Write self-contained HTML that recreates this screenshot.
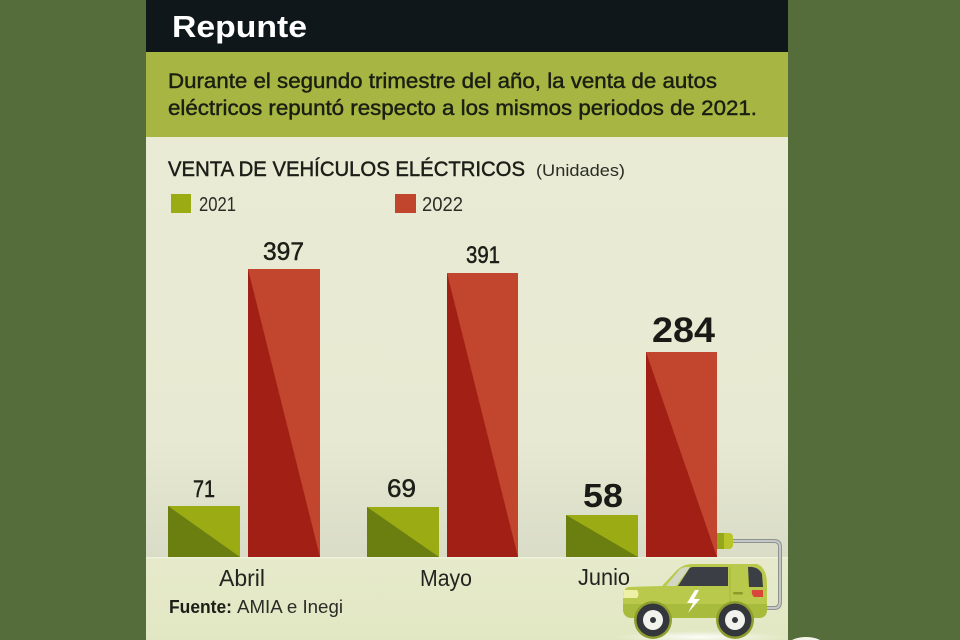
<!DOCTYPE html>
<html>
<head>
<meta charset="utf-8">
<style>
html,body{margin:0;padding:0;background:#556d3a;}
svg{display:block;}
text{font-family:"Liberation Sans",sans-serif;}
</style>
</head>
<body>
<svg width="960" height="640" viewBox="0 0 960 640" xmlns="http://www.w3.org/2000/svg">
  <defs>
    <linearGradient id="bg" x1="0" y1="0" x2="0" y2="1">
      <stop offset="0" stop-color="#e9ebd4"/>
      <stop offset="0.72" stop-color="#e7e9d2"/>
      <stop offset="1" stop-color="#d9dcc6"/>
    </linearGradient>
    <linearGradient id="gnd" x1="0" y1="0" x2="0" y2="1">
      <stop offset="0" stop-color="#e6eacb"/>
      <stop offset="1" stop-color="#e2e7c3"/>
    </linearGradient>
    <radialGradient id="shadow" cx="0.5" cy="0.5" r="0.5">
      <stop offset="0" stop-color="#ffffff" stop-opacity="0.9"/>
      <stop offset="1" stop-color="#ffffff" stop-opacity="0"/>
    </radialGradient>
  </defs>

  <rect x="0" y="0" width="960" height="640" fill="#556d3a"/>

  <rect x="146" y="0" width="642" height="52" fill="#0f171b"/>
  <rect x="146" y="52" width="642" height="85" fill="#a7b643"/>
  <rect x="146" y="137" width="642" height="420" fill="url(#bg)"/>
  <rect x="146" y="557" width="642" height="83" fill="url(#gnd)"/>
  <rect x="146" y="557" width="642" height="1.5" fill="#eef1d8"/>

  <text x="172" y="37" font-size="31" font-weight="bold" fill="#ffffff" textLength="135" lengthAdjust="spacingAndGlyphs">Repunte</text>

  <text x="168" y="88" font-size="21" fill="#1b1f12" stroke="#1b1f12" stroke-width="0.45" textLength="549" lengthAdjust="spacingAndGlyphs">Durante el segundo trimestre del año, la venta de autos</text>
  <text x="168" y="115" font-size="21" fill="#1b1f12" stroke="#1b1f12" stroke-width="0.45" textLength="589" lengthAdjust="spacingAndGlyphs">eléctricos repuntó respecto a los mismos periodos de 2021.</text>

  <text x="168" y="176" font-size="21" fill="#1c1e18" stroke="#1c1e18" stroke-width="0.45" textLength="357" lengthAdjust="spacingAndGlyphs">VENTA DE VEHÍCULOS ELÉCTRICOS</text>
  <text x="536" y="176" font-size="17" fill="#2a2c26" textLength="89" lengthAdjust="spacingAndGlyphs">(Unidades)</text>

  <rect x="171" y="194" width="20" height="19" fill="#9bab13"/>
  <text x="199" y="211" font-size="20" fill="#2a2c26" textLength="37" lengthAdjust="spacingAndGlyphs">2021</text>
  <rect x="395" y="194" width="21" height="19" fill="#c1452c"/>
  <text x="422" y="211" font-size="20" fill="#2a2c26" textLength="41" lengthAdjust="spacingAndGlyphs">2022</text>

  <rect x="168" y="506" width="72" height="51" fill="#9bab13"/>
  <polygon points="168,506 168,557 240,557" fill="#6b7e10"/>
  <rect x="248" y="269" width="72" height="288" fill="#c1462d"/>
  <polygon points="248,269 248,557 320,557" fill="#a11f14"/>

  <rect x="367" y="507" width="72" height="50" fill="#9bab13"/>
  <polygon points="367,507 367,557 439,557" fill="#6b7e10"/>
  <rect x="447" y="273" width="71" height="284" fill="#c1462d"/>
  <polygon points="447,273 447,557 518,557" fill="#a11f14"/>

  <rect x="566" y="515" width="72" height="42" fill="#9bab13"/>
  <polygon points="566,515 566,557 638,557" fill="#6b7e10"/>
  <rect x="646" y="352" width="71" height="205" fill="#c1462d"/>
  <polygon points="646,352 646,557 717,557" fill="#a11f14"/>

  <text x="193" y="497" font-size="24" fill="#1c1e18" stroke="#1c1e18" stroke-width="0.5" textLength="22" lengthAdjust="spacingAndGlyphs">71</text>
  <text x="263" y="260" font-size="25" fill="#1c1e18" stroke="#1c1e18" stroke-width="0.5" textLength="41" lengthAdjust="spacingAndGlyphs">397</text>
  <text x="387" y="497" font-size="25" fill="#1c1e18" stroke="#1c1e18" stroke-width="0.5" textLength="29" lengthAdjust="spacingAndGlyphs">69</text>
  <text x="466" y="263" font-size="24" fill="#1c1e18" stroke="#1c1e18" stroke-width="0.5" textLength="34" lengthAdjust="spacingAndGlyphs">391</text>
  <text x="583" y="507" font-size="33" font-weight="bold" fill="#1a1b17" textLength="40" lengthAdjust="spacingAndGlyphs">58</text>
  <text x="652" y="342" font-size="35" font-weight="bold" fill="#1a1b17" textLength="63" lengthAdjust="spacingAndGlyphs">284</text>

  <text x="219" y="586" font-size="23" fill="#222420" textLength="46" lengthAdjust="spacingAndGlyphs">Abril</text>
  <text x="420" y="586" font-size="23" fill="#222420" textLength="52" lengthAdjust="spacingAndGlyphs">Mayo</text>
  <text x="578" y="585" font-size="23" fill="#222420" textLength="52" lengthAdjust="spacingAndGlyphs">Junio</text>

  <text x="169" y="613" font-size="18" font-weight="bold" fill="#1c1e18" textLength="63" lengthAdjust="spacingAndGlyphs">Fuente:</text>
  <text x="237" y="613" font-size="18" fill="#2a2c26" textLength="106" lengthAdjust="spacingAndGlyphs">AMIA e Inegi</text>

  <ellipse cx="700" cy="637" rx="85" ry="6" fill="url(#shadow)"/>
  <ellipse cx="806" cy="645" rx="18" ry="8" fill="#f2f4ea"/>

  <path d="M731 541 L774 541 Q780 541 780 547 L780 602 Q780 608 774 608 L766 608" fill="none" stroke="#8e9391" stroke-width="4"/>
  <path d="M731 541 L774 541 Q780 541 780 547 L780 602 Q780 608 774 608 L766 608" fill="none" stroke="#c4c8c4" stroke-width="2"/>
  <rect x="717" y="533" width="16" height="16" rx="4" fill="#b7c52a"/>
  <rect x="717" y="533" width="7" height="16" fill="#96a61a"/>

  <path d="M628 587 Q623 589 623 597 L623 610 Q624 618 632 618 L760 618 Q767 617 767 610 L767 582 Q766 567 757 564 L692 564 Q683 564 676 571 L662 586 Z" fill="#b9c94b"/>
  <path d="M623 604 L767 604 L767 610 Q767 617 760 618 L632 618 Q624 618 623 610 Z" fill="#a9bb3c"/>
  <path d="M666 586 L680 569 Q683 567 688 567 L690 567 L676 586 Z" fill="#d3d8c4"/>
  <path d="M678 586 L689 569 Q690 567 694 567 L728 567 L728 586 Z" fill="#3b3f45"/>
  <path d="M748 567 Q758 566 762 574 L763 587 L749 587 Z" fill="#3b3f45"/>
  <line x1="730" y1="567" x2="730" y2="614" stroke="#a6b83a" stroke-width="1"/>
  <rect x="733" y="592" width="10" height="2.5" rx="1" fill="#8c9c2c"/>
  <polygon points="695,590 687,603 693,603 688,613 700,599 694,599 699,590" fill="#ffffff"/>
  <path d="M624 590 L637 590 Q640 594 637 598 L623 598 Z" fill="#eef0a8"/>
  <path d="M752 590 L763 590 L763 597 L754 597 Q751 594 752 590 Z" fill="#d8453a"/>
  <circle cx="653" cy="620" r="19" fill="#8f9f2e"/>
  <circle cx="735" cy="620" r="19" fill="#8f9f2e"/>
  <circle cx="653" cy="620" r="16.5" fill="#33363a"/>
  <circle cx="653" cy="620" r="10" fill="#f3f3ee"/>
  <circle cx="653" cy="620" r="3" fill="#33363a"/>
  <circle cx="735" cy="620" r="16.5" fill="#33363a"/>
  <circle cx="735" cy="620" r="10" fill="#f3f3ee"/>
  <circle cx="735" cy="620" r="3" fill="#33363a"/>
</svg>
</body>
</html>
